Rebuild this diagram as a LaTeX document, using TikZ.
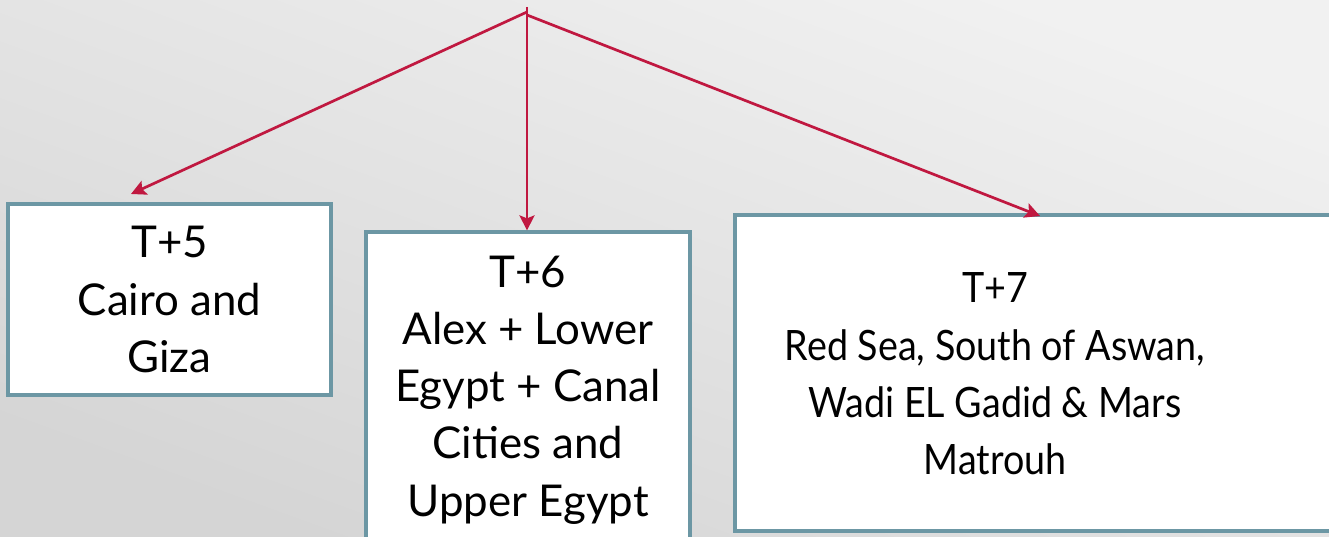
\documentclass[tikz,border=0pt]{standalone}
\usepackage{fontspec}
\setmainfont{Lato}
\newfontfamily\narrowlato[FakeStretch=0.9]{Lato}
\usetikzlibrary{arrows.meta}
\definecolor{arrowred}{HTML}{C01840}
\definecolor{boxedge}{HTML}{6C97A4}
\definecolor{bglight}{HTML}{F1F1F1}
\definecolor{bgdark}{HTML}{D5D5D5}
\tikzset{
  box/.style={draw=boxedge, line width=3.2bp, fill=white, align=center,
    font=\fontsize{44}{57.5}\selectfont, inner sep=0pt, anchor=center},
  boxtext/.style={align=center, inner sep=0pt,
    font=\narrowlato\fontsize{42}{57.5}\selectfont},
  conn/.style={draw=arrowred, line width=2.7bp,
    -{Stealth[length=15bp,width=15bp,inset=3bp]}},
}
\begin{document}
\begin{tikzpicture}[x=1bp,y=-1bp]
\useasboundingbox (0,0) rectangle (1329,537);
\clip (0,0) rectangle (1329,537);
\shade[shading=axis, top color=bglight, bottom color=bgdark, shading angle=-20] (0,0) rectangle (1329,537);
\node[box, minimum width=323bp, minimum height=191bp] (b1) at (169.5,299.5) {T+5\\Cairo and\\Giza};
\node[box, minimum width=324bp, minimum height=316bp] (b2) at (528,390) {T+6\\Alex + Lower\\Egypt + Canal\\Cities and\\Upper Egypt};
\node[box, minimum width=660bp, minimum height=316bp] (b3) at (1065,373) {};
\node[boxtext] (t3) at (995,374) {T+7\\Red Sea, South of Aswan,\\Wadi EL Gadid \& Mars\\Matrouh};
\coordinate (top) at (527,7);
\coordinate (s1) at (527,12);
\coordinate (s3) at (527,15);
\coordinate (e1) at (131,194);
\coordinate (e3) at (1040,216);
\draw[conn] (top) -- (b2.north -| top);
\draw[conn] (s1) -- (e1);
\draw[conn] (s3) -- (e3);
\end{tikzpicture}
\end{document}
